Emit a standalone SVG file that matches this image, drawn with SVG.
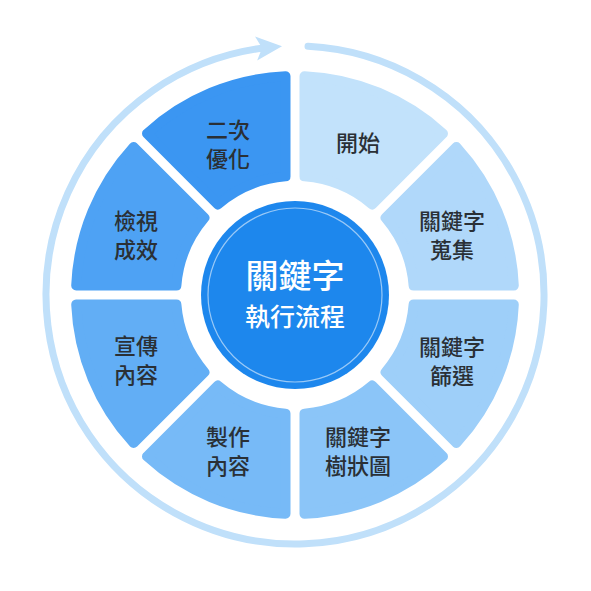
<svg xmlns="http://www.w3.org/2000/svg" width="591" height="591" viewBox="0 0 591 591">
<style>
.seg{stroke-width:10;stroke-linejoin:round}
.lbl{font-family:"Noto Sans CJK TC","Noto Sans CJK SC",sans-serif;font-size:22px;font-weight:500;fill:#2a3036;text-anchor:middle}
.ctr{font-family:"Noto Sans CJK TC","Noto Sans CJK SC",sans-serif;fill:#ffffff;text-anchor:middle;font-weight:500}
</style>
<defs>
<path id="sector" d="M304.5,76.21 A219,219 0 0 1 442.99,133.57 L372.16,204.4 A119,119 0 0 0 304.5,176.38 Z"/>
</defs>
<rect width="591" height="591" fill="#ffffff"/>
<g id="connectors">
<path d="M308.03,46.34 A249,249 0 1 1 262,48.2" fill="none" stroke="#c0e0fa" stroke-width="7" stroke-linecap="round"/>
<polygon transform="translate(282,46.3) rotate(-5)" points="0,0 -26,-12 -20,0 -26,12" fill="#c0e0fa"/>
</g>
<g id="n-start">
<use href="#sector" class="seg" fill="#c2e2fb" stroke="#c2e2fb"/>
<text class="lbl" x="358" y="151">開始</text>
</g>
<g id="n-collect">
<use href="#sector" class="seg" fill="#b0d8fa" stroke="#b0d8fa" transform="rotate(45 295 295)"/>
<text class="lbl" x="452" y="229">關鍵字</text>
<text class="lbl" x="452" y="258">蒐集</text>
</g>
<g id="n-filter">
<use href="#sector" class="seg" fill="#9ecff9" stroke="#9ecff9" transform="rotate(90 295 295)"/>
<text class="lbl" x="452" y="355">關鍵字</text>
<text class="lbl" x="452" y="384">篩選</text>
</g>
<g id="n-tree">
<use href="#sector" class="seg" fill="#8bc5f8" stroke="#8bc5f8" transform="rotate(135 295 295)"/>
<text class="lbl" x="358" y="445">關鍵字</text>
<text class="lbl" x="358" y="474">樹狀圖</text>
</g>
<g id="n-make">
<use href="#sector" class="seg" fill="#77baf7" stroke="#77baf7" transform="rotate(180 295 295)"/>
<text class="lbl" x="228" y="445">製作</text>
<text class="lbl" x="228" y="474">內容</text>
</g>
<g id="n-promote">
<use href="#sector" class="seg" fill="#62aef5" stroke="#62aef5" transform="rotate(225 295 295)"/>
<text class="lbl" x="136" y="354">宣傳</text>
<text class="lbl" x="136" y="383">內容</text>
</g>
<g id="n-review">
<use href="#sector" class="seg" fill="#4ea2f4" stroke="#4ea2f4" transform="rotate(270 295 295)"/>
<text class="lbl" x="136" y="229">檢視</text>
<text class="lbl" x="136" y="258">成效</text>
</g>
<g id="n-optimize">
<use href="#sector" class="seg" fill="#3b96f2" stroke="#3b96f2" transform="rotate(315 295 295)"/>
<text class="lbl" x="228" y="138">二次</text>
<text class="lbl" x="228" y="167">優化</text>
</g>
<g id="n-center">
<circle cx="295" cy="295" r="94" fill="#1d87ed"/>
<circle cx="295" cy="295" r="87" fill="none" stroke="#ffffff" stroke-opacity="0.55" stroke-width="1.2"/>
<text class="ctr" x="295" y="288" font-size="33">關鍵字</text>
<text class="ctr" x="295" y="326" font-size="25">執行流程</text>
</g>
</svg>
